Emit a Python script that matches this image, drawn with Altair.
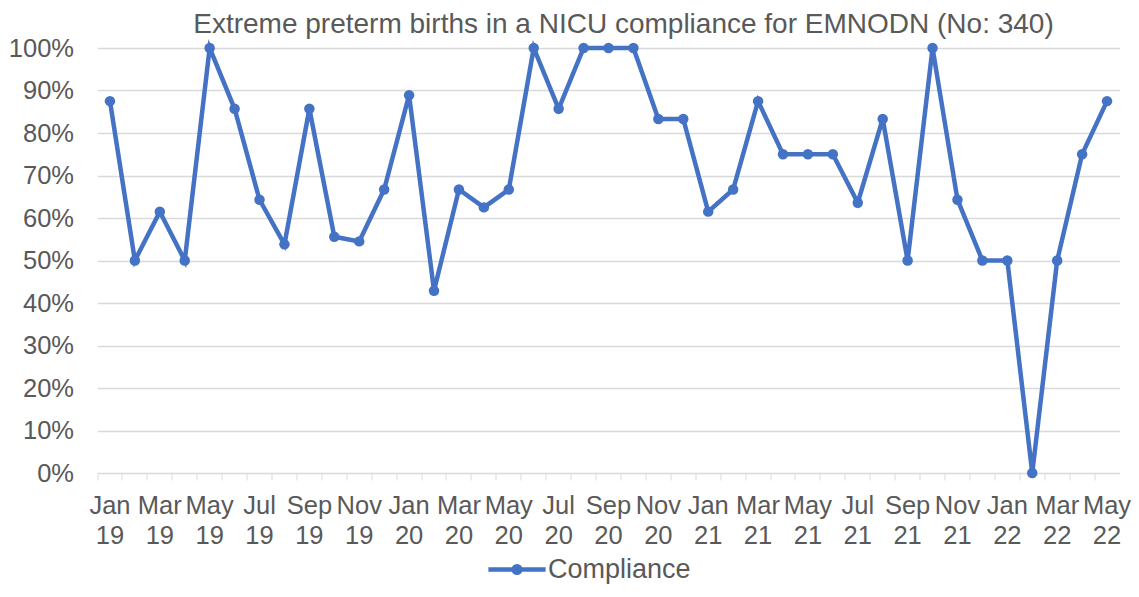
import altair as alt
import pandas as pd

months = ["Jan", "Feb", "Mar", "Apr", "May", "Jun", "Jul", "Aug", "Sep", "Oct", "Nov", "Dec"]
years = ["19", "20", "21", "22"]
categories = [f"{m} {y}" for y in years for m in months][:41]

compliance = [
    0.875, 0.50, 0.615, 0.50, 1.00, 0.857, 0.643, 0.538, 0.857, 0.556, 0.545, 0.667,
    0.889, 0.429, 0.667, 0.625, 0.667, 1.00, 0.857, 1.00, 1.00, 1.00, 0.833, 0.833,
    0.615, 0.667, 0.875, 0.75, 0.75, 0.75, 0.636, 0.833, 0.50, 1.00, 0.643, 0.50,
    0.50, 0.00, 0.50, 0.75, 0.875,
]
series = ["Compliance"] * len(categories)

df = pd.DataFrame({"month": categories, "value": compliance, "series": series})

GRAY = "#595959"
GRID = "#d9d9d9"
BLUE = "#4472C4"
FONT = "Liberation Sans"

PLOT_W = 1022
PLOT_H = 425

label_expr = (
    "indexof(['Jan','Mar','May','Jul','Sep','Nov'], slice(datum.value, 0, 3)) >= 0"
    " ? split(datum.value, ' ') : ''"
)

x = alt.X(
    "month:O",
    sort=categories,
    scale=alt.Scale(type="band", paddingInner=0, paddingOuter=0),
    axis=alt.Axis(
        title=None,
        labelAngle=0,
        labelExpr=label_expr,
        labelOverlap=False,
        labelFont=FONT,
        labelFontSize=25.5,
        labelColor=GRAY,
        labelLineHeight=30.5,
        labelPadding=13,
        bandPosition=0,
        tickColor=GRID,
        tickSize=7,
        domainColor=GRID,
        domainWidth=1,
        grid=False,
    ),
)
y = alt.Y(
    "value:Q",
    scale=alt.Scale(domain=[0, 1], nice=False),
    axis=alt.Axis(
        title=None,
        format=".0%",
        values=[i / 10 for i in range(11)],
        labelFont=FONT,
        labelFontSize=25.5,
        labelColor=GRAY,
        labelPadding=24,
        ticks=False,
        domain=False,
        grid=True,
        gridColor=GRID,
        gridWidth=1.3,
    ),
)
color = alt.Color(
    "series:N",
    scale=alt.Scale(domain=["Compliance"], range=[BLUE]),
    legend=alt.Legend(
        title=None,
        orient="none",
        legendX=406,
        legendY=508,
        padding=0,
        symbolType="M -2.6 0 L 2.6 0 M 0.3 0 A 0.3 0.3 0 1 1 -0.3 0 A 0.3 0.3 0 1 1 0.3 0 Z",
        symbolSize=484,
        symbolStrokeWidth=4.5,
        symbolFillColor=BLUE,
        symbolStrokeColor=BLUE,
        labelFont=FONT,
        labelFontSize=27,
        labelColor=GRAY,
        labelOffset=17.5,
    ),
)

base = alt.Chart(df).encode(x=x, y=y, color=color)
line = base.mark_line(strokeWidth=4.5)
points = base.mark_point(filled=True, size=110, opacity=1)

chart = (
    alt.layer(line, points)
    .properties(
        width=PLOT_W,
        height=PLOT_H,
        autosize=alt.AutoSizeParams(type="none"),
        padding={"left": 89.5, "top": 40, "right": 11.5, "bottom": 112},
        title=alt.TitleParams(
            "Extreme preterm births in a NICU compliance for EMNODN (No: 340)",
            font=FONT,
            fontSize=28,
            fontWeight="normal",
            color=GRAY,
            anchor="middle",
            frame="group",
            dx=15,
            offset=-3,
        ),
    )
    .configure_view(strokeWidth=0)
)

chart.save("out.html", embed_options={"renderer": "svg", "actions": False})
